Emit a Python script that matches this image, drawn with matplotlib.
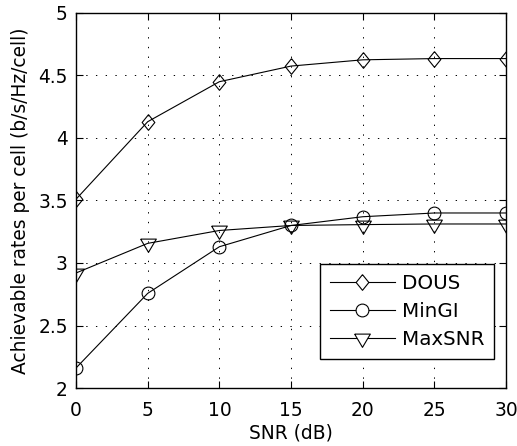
import numpy as np
import matplotlib
matplotlib.use('Agg')
import matplotlib.pyplot as plt

# Dados
snr = [0, 5, 10, 15, 20, 25, 30]
dous = [3.51, 4.13, 4.45, 4.575, 4.625, 4.635, 4.635]
mingi = [2.16, 2.757, 3.13, 3.30, 3.37, 3.40, 3.40]
maxsnr = [2.92, 3.157, 3.26, 3.30, 3.307, 3.312, 3.312]
labels = ['DOUS', 'MinGI', 'MaxSNR']

# marcadores no estilo MATLAB
diamante = [(0, 7.85), (6.35, 0), (0, -7.85), (-6.35, 0), (0, 7.85)]
triangulo = [(-7.85, 4.4), (7.85, 4.4), (0, -8.9), (-7.85, 4.4)]

plt.rcParams['font.family'] = 'DejaVu Sans'
fs = 13.4
fs_leg = 14.3

fig = plt.figure(figsize=(5.17, 4.46), dpi=100)
ax = fig.add_axes([0.147, 0.130, 0.832, 0.841])

estilo = dict(color='black', linewidth=0.8, markerfacecolor='none',
              markeredgecolor='black', markeredgewidth=0.8)
ax.plot(snr, dous, marker=diamante, markersize=11.3, label=labels[0], **estilo)
ax.plot(snr, mingi, marker='o', markersize=9.2, label=labels[1], **estilo)
ax.plot(snr, maxsnr, marker=triangulo, markersize=12.8, label=labels[2], **estilo)

ax.set_xlim(0, 30)
ax.set_ylim(2, 5)
ax.set_xticks(np.arange(0, 31, 5))
ax.set_yticks([2, 2.5, 3, 3.5, 4, 4.5, 5])
ax.set_yticklabels(['2', '2.5', '3', '3.5', '4', '4.5', '5'])
ax.tick_params(direction='in', length=5, width=0.8, top=True, right=True,
               labelsize=fs)
ax.tick_params(axis='x', pad=9)
ax.tick_params(axis='y', pad=6)
ax.grid(True, color='black', linestyle=(0, (1.4, 8.6)), linewidth=0.7)
for s in ax.spines.values():
    s.set_linewidth(1.0)

ax.set_xlabel('SNR (dB)', fontsize=fs, labelpad=3)
ax.set_ylabel('Achievable rates per cell (b/s/Hz/cell)', fontsize=fs, labelpad=6)

leg = ax.legend(loc='lower right', bbox_to_anchor=(0.972, 0.077),
                borderaxespad=0, fontsize=fs_leg, handlelength=3.27,
                handletextpad=0.35, labelspacing=0.45, fancybox=False,
                framealpha=1, edgecolor='black', borderpad=0.5)
leg.get_frame().set_linewidth(1.0)
for h in leg.legend_handles:
    h.set_markerfacecolor('white')

fig.savefig('out.png', dpi=100)
